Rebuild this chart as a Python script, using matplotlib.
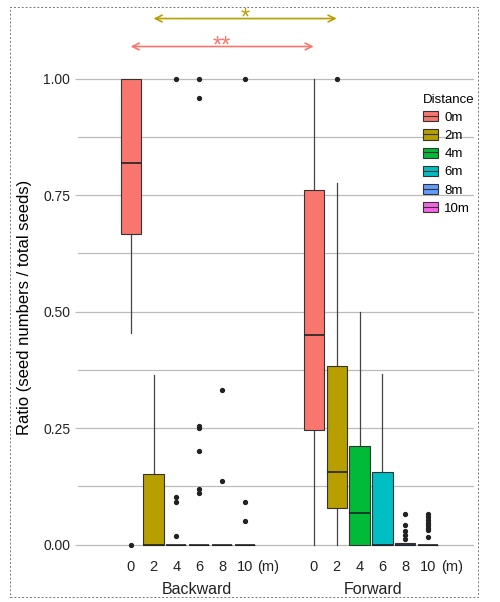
import matplotlib
matplotlib.use('Agg')
import matplotlib.pyplot as plt
from matplotlib.patches import Patch, Rectangle
from matplotlib.lines import Line2D

plt.rcParams['font.family'] = ['Liberation Sans', 'DejaVu Sans']

# categories
distances = ['0', '2', '4', '6', '8', '10']
legend_labels = ['0m', '2m', '4m', '6m', '8m', '10m']
groups = ['Backward', 'Forward']
colors = ['#F8766D', '#B79F00', '#00BA38', '#00BFC4', '#619CFF', '#F564E3']

# Backward box stats
bw_q1 = [0.667, 0, 0, 0, 0, 0]
bw_med = [0.82, 0, 0, 0, 0, 0]
bw_q3 = [1.0, 0.152, 0, 0, 0, 0]
bw_lo = [0.455, 0, 0, 0, 0, 0]
bw_hi = [1.0, 0.365, 0, 0, 0, 0]
bw_fliers = [[0.0], [], [1.0, 0.103, 0.092, 0.019],
             [1.0, 0.959, 0.255, 0.25, 0.2, 0.12, 0.112],
             [0.333, 0.137], [1.0, 0.092, 0.05]]

# Forward box stats
fw_q1 = [0.247, 0.078, 0, 0, 0, 0]
fw_med = [0.45, 0.157, 0.067, 0, 0, 0]
fw_q3 = [0.762, 0.384, 0.212, 0.157, 0.003, 0]
fw_lo = [0, 0, 0, 0, 0, 0]
fw_hi = [1.0, 0.777, 0.5, 0.367, 0.003, 0]
fw_fliers = [[], [1.0], [], [],
             [0.065, 0.042, 0.029, 0.021, 0.012],
             [0.066, 0.059, 0.053, 0.047, 0.042, 0.036, 0.032, 0.017]]

# significance brackets: (backward index, forward index, label, colour)
sig_pairs = [(0, 0, '**', '#F8766D'), (1, 1, '*', '#B79F00')]

fig = plt.figure(figsize=(5, 6.02), dpi=100)
ax = fig.add_axes([0.156, 0.0797, 0.792, 0.8206])

def build_stats(q1, med, q3, lo, hi, fl):
    return [dict(q1=a, med=b, q3=c, whislo=d, whishi=e, fliers=f)
            for a, b, c, d, e, f in zip(q1, med, q3, lo, hi, fl)]

bw_pos = list(range(6))
fw_pos = [p + 8 for p in range(6)]

for stats, pos in [(build_stats(bw_q1, bw_med, bw_q3, bw_lo, bw_hi, bw_fliers), bw_pos),
                   (build_stats(fw_q1, fw_med, fw_q3, fw_lo, fw_hi, fw_fliers), fw_pos)]:
    bp = ax.bxp(stats, positions=pos, widths=0.88, patch_artist=True,
                showcaps=False,
                boxprops=dict(edgecolor='#333333', linewidth=0.8),
                medianprops=dict(color='#222222', linewidth=1.2),
                whiskerprops=dict(color='#444444', linewidth=0.9),
                flierprops=dict(marker='o', markerfacecolor='#222222',
                                markeredgecolor='#222222', markersize=2.8))
    for patch, c in zip(bp['boxes'], colors):
        patch.set_facecolor(c)
        patch.set_zorder(3)
    for m in bp['medians']:
        m.set_zorder(4)

ax.set_xlim(-2.3, 15.0)
ax.set_ylim(-0.02, 1.04)
ax.set_yticks([0, 0.25, 0.5, 0.75, 1.0])
ax.set_yticklabels(['0.00', '0.25', '0.50', '0.75', '1.00'])
ax.set_yticks([0.125, 0.375, 0.625, 0.875], minor=True)
ax.grid(True, axis='y', which='both', color='#BBBBBB', linewidth=0.9)
ax.set_axisbelow(True)
for s in ax.spines.values():
    s.set_visible(False)
ax.tick_params(axis='y', length=2.5, color='#BBBBBB', labelsize=10, labelcolor='#222222', pad=3)
ax.tick_params(axis='y', which='minor', length=0)
ax.set_xticks(bw_pos + fw_pos)
ax.set_xticklabels(distances + distances)
ax.tick_params(axis='x', length=0, labelsize=10.5, labelcolor='#222222', pad=4)

for p in [bw_pos[-1], fw_pos[-1]]:
    ax.annotate('(m)', xy=(p, 0), xycoords=('data', 'axes fraction'),
                xytext=(9, -4), textcoords='offset points',
                ha='left', va='top', fontsize=10.5, color='#222222')

for p, g in zip([2.9, 10.6], groups):
    ax.annotate(g, xy=(p, 0), xycoords=('data', 'axes fraction'),
                xytext=(0, -20), textcoords='offset points',
                ha='center', va='top', fontsize=11.5, color='#222222')

ax.set_ylabel('Ratio (seed numbers / total seeds)', fontsize=12, labelpad=8)

# significance arrows
ylev = [1.069, 1.129]
for (i, j, lab, c), yy in zip(sig_pairs, ylev):
    x0, x1 = bw_pos[i], fw_pos[j]
    ax.annotate('', xy=(x0, yy), xytext=(x1, yy), annotation_clip=False,
                arrowprops=dict(arrowstyle='<->', color=c, lw=1.2,
                                shrinkA=0, shrinkB=0, mutation_scale=12))
    ax.text((x0 + x1) / 2, yy - 0.012, lab, color=c, ha='center', va='baseline',
            fontsize=17, clip_on=False)

handles = [(Patch(facecolor=c, edgecolor='#333333', linewidth=0.8),
            Line2D([], [], color='#333333', linewidth=0.8)) for c in colors]
leg = fig.legend(handles, legend_labels, title='Distance', loc='upper left',
                 bbox_to_anchor=(0.836, 0.853), frameon=False, fontsize=9.5,
                 title_fontsize=9.5, handlelength=1.1, handleheight=0.8,
                 handletextpad=0.5, labelspacing=0.42, borderaxespad=0)
leg._legend_box.align = 'left'

fig.patches.append(Rectangle((0.02, 0.008), 0.936, 0.98, transform=fig.transFigure,
                             fill=False, linestyle=(0, (2, 2)), linewidth=0.7,
                             edgecolor='#777777'))

fig.savefig('out.png', dpi=100)
